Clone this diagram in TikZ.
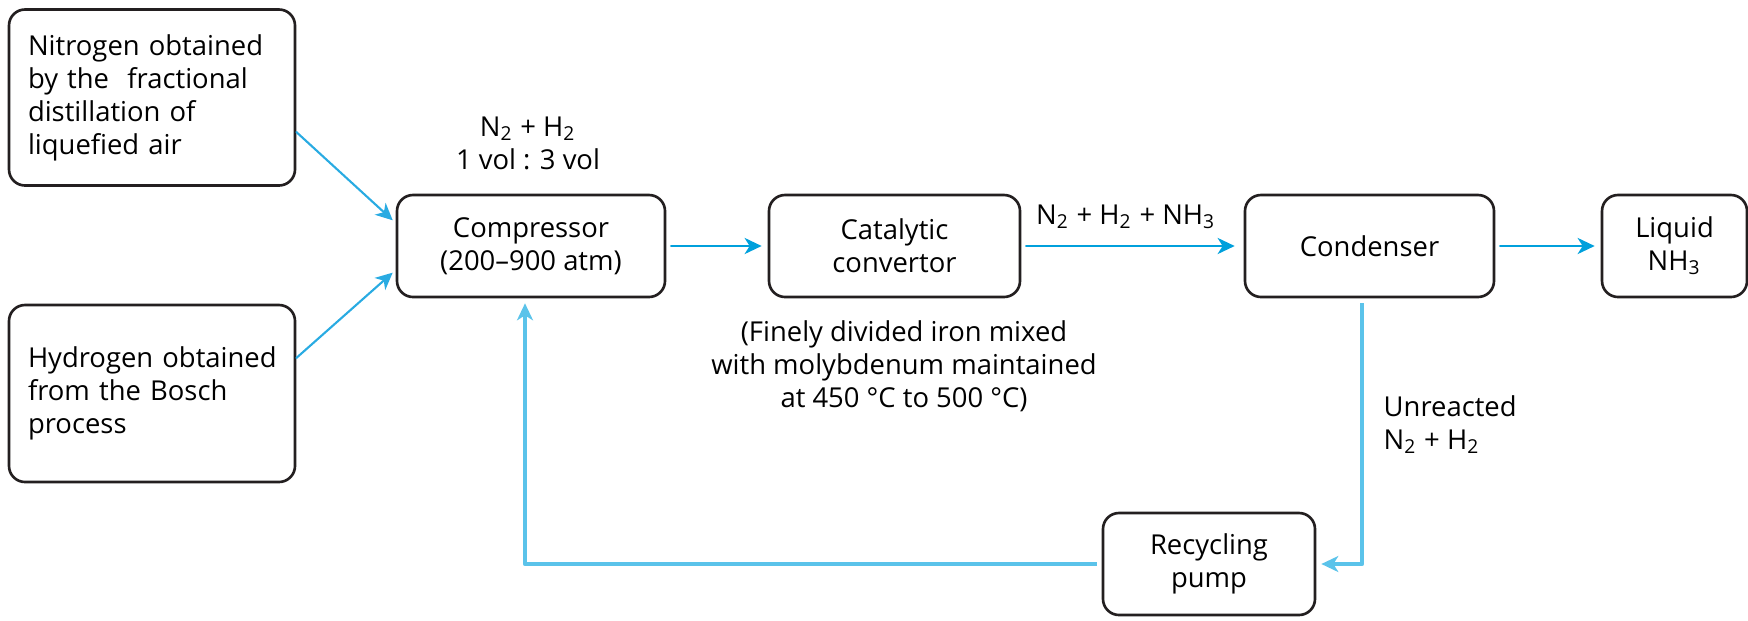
\documentclass[tikz,border=0pt]{standalone}
\usepackage{fontspec}
\setmainfont{Open Sans}
\usetikzlibrary{arrows.meta}
\definecolor{FlowBlue}{HTML}{00A0DC}
\definecolor{FeedBlue}{HTML}{29ABE2}
\definecolor{RecycleBlue}{HTML}{5BC3EA}
\definecolor{BoxBlack}{HTML}{231F20}

\begin{document}
\begin{tikzpicture}[x=0.1mm,y=-0.1mm,line cap=round,line join=round,
  font=\fontsize{7.8}{9.4}\selectfont,
  unitbox/.style={draw=BoxBlack,line width=0.75pt,rounded corners=1.6mm,align=center,inner sep=0pt,minimum height=10.2mm},
  feedbox/.style={unitbox,align=left,text width=24.8mm,inner xsep=1.9mm,minimum height=17.6mm},
  flowline/.style={FlowBlue,line width=0.85pt,-{Stealth[length=1.7mm,width=1.6mm,inset=0.5mm]},shorten <=0.5mm,shorten >=0.6mm},
  feedline/.style={FeedBlue,line width=0.6pt,-{Stealth[length=1.7mm,width=1.6mm,inset=0.5mm]},shorten >=0.4mm},
  recycleline/.style={RecycleBlue,line width=1.3pt,line cap=butt,-{Stealth[length=1.7mm,width=1.6mm,inset=0.5mm]},shorten <=0.5mm,shorten >=0.5mm}]
  \useasboundingbox (0,0) rectangle (1748,620);
  % feed gases
  \node[feedbox] (nitrogen) at (152,97.5) {Nitrogen obtained\\by the\ \ fractional\\distillation of\\liquefied air};
  \node[feedbox,minimum height=17.7mm] (hydrogen) at (152,393.5) {\mbox{Hydrogen obtained}\\from the Bosch\\process};
  % main line
  \node[unitbox,minimum width=26.8mm] (compressor) at (531,246) {Compressor\\(200--900 atm)};
  \node[unitbox,minimum width=25.1mm] (catalytic) at (894.5,246) {Catalytic\\convertor};
  \node[unitbox,minimum width=24.9mm] (condenser) at (1369.5,246) {Condenser};
  \node[unitbox,minimum width=14.5mm] (liquid) at (1674.5,246) {Liquid\\NH\textsubscript{3}};
  \node[unitbox,minimum width=21.2mm] (pump) at (1209,564) {Recycling\\pump};
  % labels
  \node[align=center] (ratio) at (528,143) {N\textsubscript{2} + H\textsubscript{2}\\1 vol : 3 vol};
  \node (mixture) at (1126,217) {N\textsubscript{2} + H\textsubscript{2} + NH\textsubscript{3}};
  \node[align=center] (catalyst) at (904,366) {(Finely divided iron mixed\\with molybdenum maintained\\at 450 °C to 500 °C)};
  \node[align=left,anchor=west,inner sep=0pt] (unreacted) at (1383,424.5) {Unreacted\\N\textsubscript{2} + H\textsubscript{2}};
  % connectors
  \draw[feedline] ([yshift=-3.45mm]nitrogen.east) -- ([yshift=2.3mm]compressor.west);
  \draw[feedline] ([yshift=3.55mm]hydrogen.east) -- ([yshift=-2.4mm]compressor.west);
  \draw[flowline] (compressor) -- (catalytic);
  \draw[flowline,shorten >=0.9mm] (catalytic) -- (condenser);
  \draw[flowline] (condenser) -- (liquid);
  \draw[recycleline] ([xshift=-0.75mm]condenser.south) |- (pump.east);
  \draw[recycleline] (pump.west) -| ([xshift=-0.6mm]compressor.south);
\end{tikzpicture}
\end{document}
